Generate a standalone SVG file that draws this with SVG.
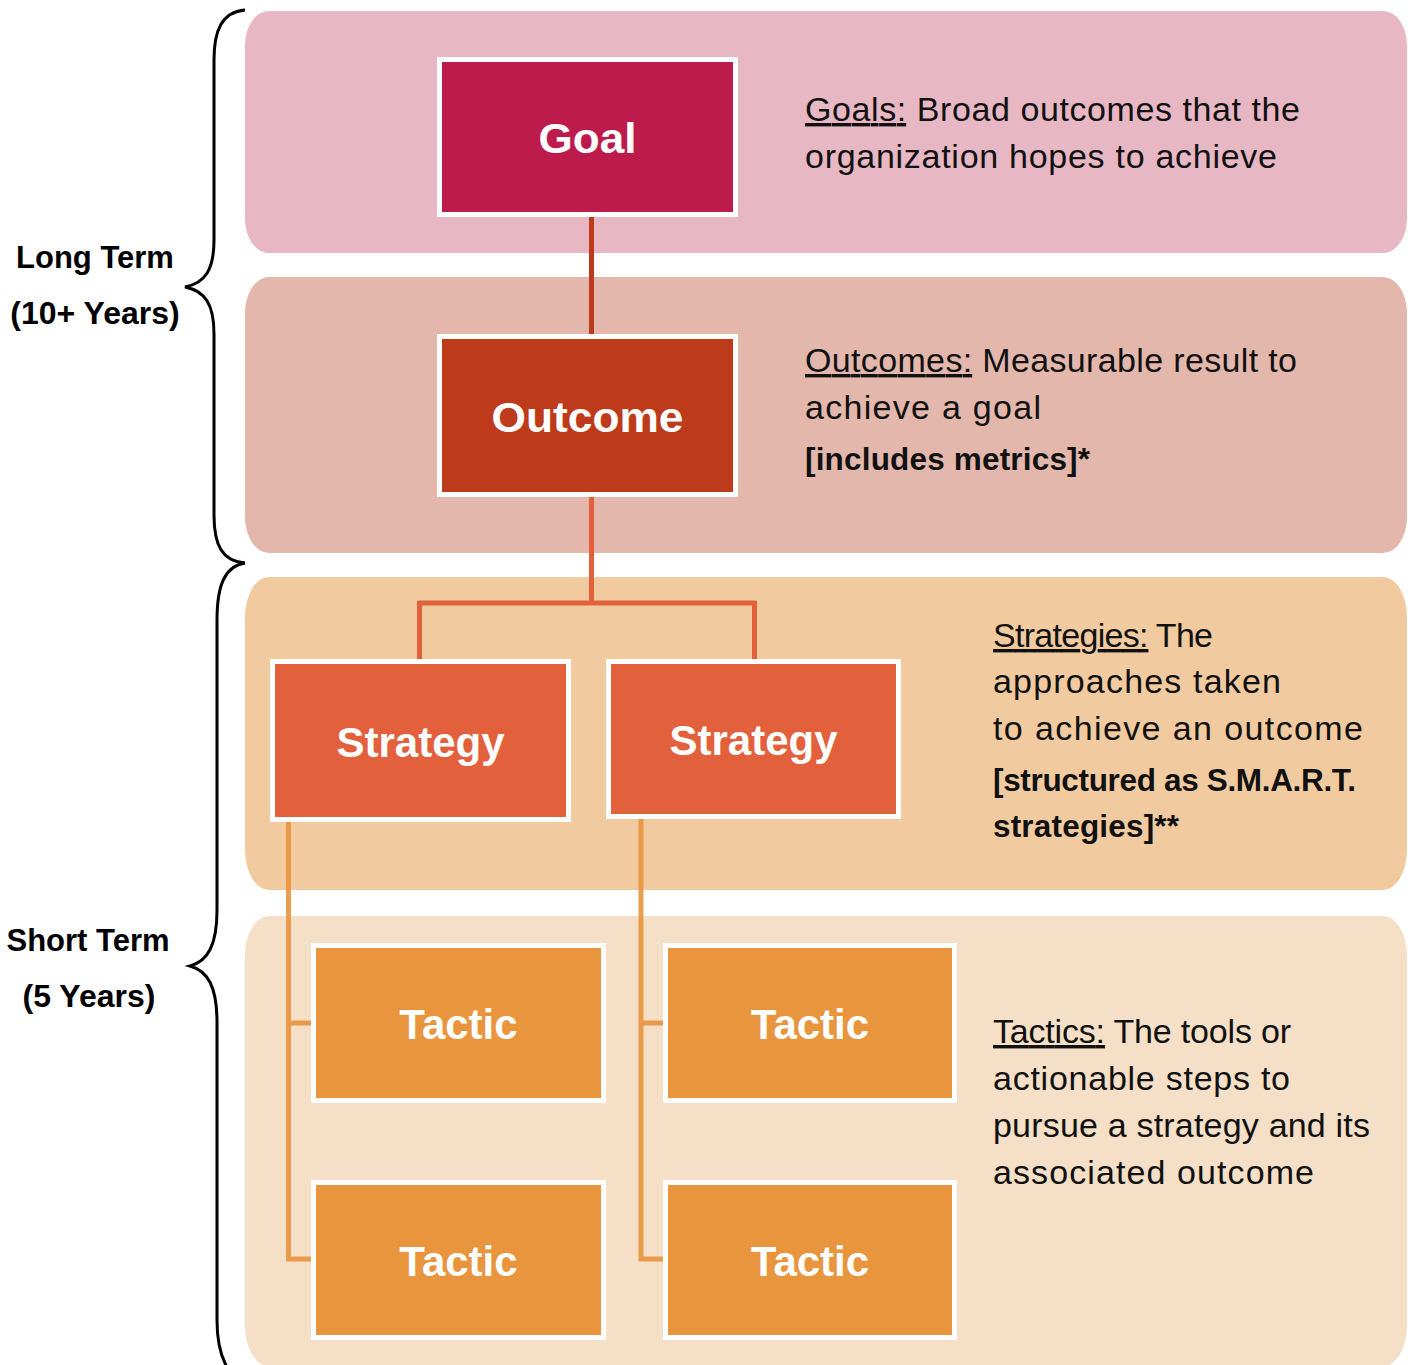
<svg xmlns="http://www.w3.org/2000/svg" width="1411" height="1365" viewBox="0 0 1411 1365">
<style>
.band{stroke:none}
.box{stroke:#FFFFFF;stroke-width:5}
.lbl{font-family:"Liberation Sans",Arial,sans-serif;font-weight:bold;font-size:42px;fill:#FFFFFF;text-anchor:middle}
.side{font-family:"Liberation Sans",Arial,sans-serif;font-weight:bold;font-size:31px;fill:#000000;text-anchor:middle}
.body{font-family:"Liberation Sans",Arial,sans-serif;font-size:34px;fill:#111111}
.bold{font-family:"Liberation Sans",Arial,sans-serif;font-weight:bold;font-size:31.5px;fill:#111111}
.ul{text-decoration:underline}
.brace{fill:none;stroke:#000000;stroke-width:3}
.c1{fill:none;stroke:#BD3A1A;stroke-width:5}
.c2{fill:none;stroke:#E3603D;stroke-width:5}
.c3{fill:none;stroke:#E8943C;stroke-width:5;stroke-opacity:0.9}
</style>
<rect width="1411" height="1365" fill="#FFFFFF"/>
<g id="bands">
<rect class="band" x="245" y="11" width="1162" height="242" rx="24" ry="34" fill="#E8B7C4"/>
<rect class="band" x="245" y="277" width="1162" height="276" rx="24" ry="36" fill="#E4B7AC"/>
<rect class="band" x="245" y="577" width="1162" height="313" rx="24" ry="40" fill="#F1CA9F"/>
<rect class="band" x="245" y="916" width="1162" height="450" rx="24" ry="40" fill="#F5DFC7"/>
</g>
<g id="braces">
<path class="brace" d="M245,10 C222,12 214,30 214,60 L214,240 C214,270 205,283 185,287 C205,291 214,304 214,334 L214,515 C214,545 222,561 245,563"/>
<path class="brace" d="M245,563 C225,566 217,585 217,620 L217,910 C217,945 208,961 190,966 C208,971 217,987 217,1022 L217,1320 C217,1355 228,1380 250,1385"/>
</g>
<g id="side-labels">
<text class="side" x="95" y="268">Long Term</text>
<text class="side" x="95" y="324" style="font-size:32px">(10+ Years)</text>
<text class="side" x="88" y="951">Short Term</text>
<text class="side" x="89" y="1007" style="font-size:32px">(5 Years)</text>
</g>
<g id="connectors">
<path class="c1" d="M591.5,217 V334"/>
<path class="c2" d="M591.5,497 V603 M418,603 H756 M419.5,601 V659 M754.5,601 V659"/>
<path class="c3" d="M288.5,822 V1259 H311 M288.5,1023 H311"/>
<path class="c3" d="M641,819 V1259 H663 M641,1023 H663"/>
</g>
<g id="goal">
<rect class="box" x="439.5" y="59.5" width="296" height="155" fill="#BC1B4B"/>
<text class="lbl" x="587.5" y="153" textLength="98" lengthAdjust="spacingAndGlyphs">Goal</text>
</g>
<g id="outcome">
<rect class="box" x="439.5" y="336.5" width="296" height="158" fill="#BD3A1A"/>
<text class="lbl" x="587.5" y="432" textLength="192" lengthAdjust="spacingAndGlyphs">Outcome</text>
</g>
<g id="strategy-1">
<rect class="box" x="272.5" y="661.5" width="296" height="158" fill="#E3603D"/>
<text class="lbl" x="420.5" y="757">Strategy</text>
</g>
<g id="strategy-2">
<rect class="box" x="608.5" y="661.5" width="290" height="155" fill="#E3603D"/>
<text class="lbl" x="753.5" y="755">Strategy</text>
</g>
<g id="tactic-1">
<rect class="box" x="313.5" y="945.5" width="290" height="155" fill="#E8953D"/>
<text class="lbl" x="458.5" y="1039">Tactic</text>
</g>
<g id="tactic-2">
<rect class="box" x="313.5" y="1182.5" width="290" height="155" fill="#E8953D"/>
<text class="lbl" x="458.5" y="1276">Tactic</text>
</g>
<g id="tactic-3">
<rect class="box" x="665.5" y="945.5" width="289" height="155" fill="#E8953D"/>
<text class="lbl" x="810" y="1039">Tactic</text>
</g>
<g id="tactic-4">
<rect class="box" x="665.5" y="1182.5" width="289" height="155" fill="#E8953D"/>
<text class="lbl" x="810" y="1276">Tactic</text>
</g>
<g id="descriptions">
<text class="body" x="805" y="121" textLength="495" lengthAdjust="spacing"><tspan class="ul">Goals:</tspan> Broad outcomes that the</text>
<text class="body" x="805" y="168" textLength="472" lengthAdjust="spacing">organization hopes to achieve</text>
<text class="body" x="805" y="372" textLength="492" lengthAdjust="spacing"><tspan class="ul">Outcomes:</tspan> Measurable result to</text>
<text class="body" x="805" y="419" textLength="236" lengthAdjust="spacing">achieve a goal</text>
<text class="bold" x="805" y="470" textLength="285" lengthAdjust="spacing">[includes metrics]*</text>
<text class="body" x="993" y="647" textLength="220" lengthAdjust="spacing"><tspan class="ul">Strategies:</tspan> The</text>
<text class="body" x="993" y="693" textLength="288" lengthAdjust="spacing">approaches taken</text>
<text class="body" x="993" y="740" textLength="370" lengthAdjust="spacing">to achieve an outcome</text>
<text class="bold" x="993" y="791" textLength="363" lengthAdjust="spacing">[structured as S.M.A.R.T.</text>
<text class="bold" x="993" y="837" textLength="186" lengthAdjust="spacing">strategies]**</text>
<text class="body" x="993" y="1043" textLength="298" lengthAdjust="spacing"><tspan class="ul">Tactics:</tspan> The tools or</text>
<text class="body" x="993" y="1090" textLength="297" lengthAdjust="spacing">actionable steps to</text>
<text class="body" x="993" y="1137" textLength="377" lengthAdjust="spacing">pursue a strategy and its</text>
<text class="body" x="993" y="1184" textLength="321" lengthAdjust="spacing">associated outcome</text>
</g>
</svg>
